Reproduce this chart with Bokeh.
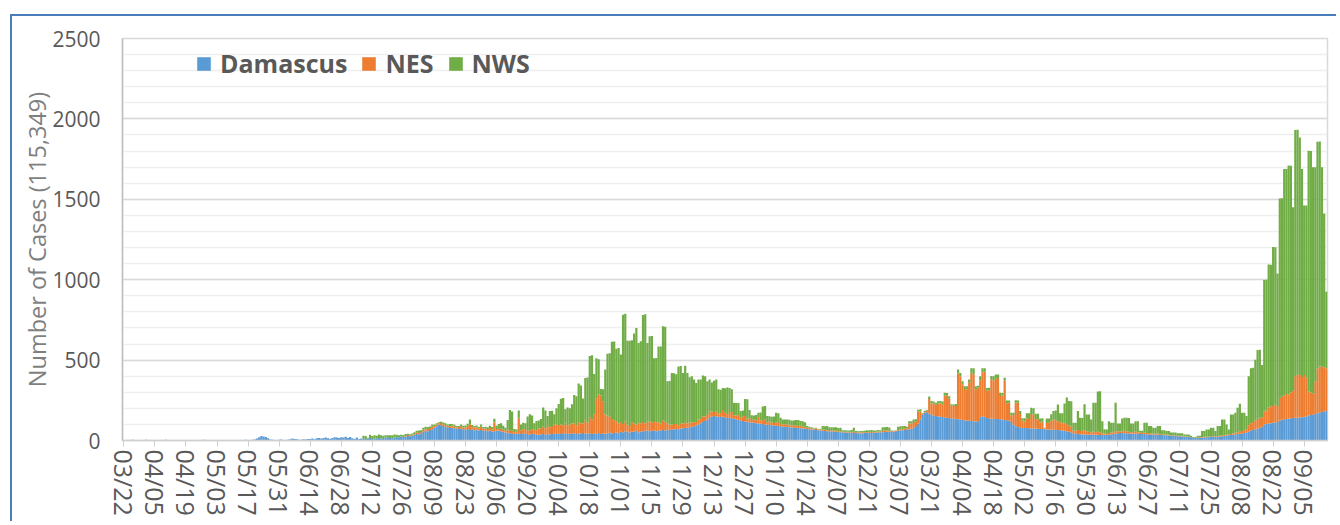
from bokeh.plotting import figure
from bokeh.models import (Range1d, FixedTicker, SingleIntervalTicker, Legend, LegendItem,
                          ColumnDataSource)
from bokeh.embed import file_html
from bokeh.resources import INLINE

tick_labels = ["03/22", "04/05", "04/19", "05/03", "05/17", "05/31", "06/14", "06/28",
               "07/12", "07/26", "08/09", "08/23", "09/06", "09/20", "10/04", "10/18",
               "11/01", "11/15", "11/29", "12/13", "12/27", "01/10", "01/24", "02/07",
               "02/21", "03/07", "03/21", "04/04", "04/18", "05/02", "05/16", "05/30",
               "06/13", "06/27", "07/11", "07/25", "08/08", "08/22", "09/05"]
tick_step_days = 14

series_names = ["Damascus", "NES", "NWS"]
series_colors = ["#5B9BD5", "#ED7D31", "#70AD47"]

# daily values, starting 2020-03-22
damascus = [
    3, 1, 2, 0, 4, 2, 1, 3, 2, 1, 4, 1, 0, 3,
    3, 0, 2, 1, 2, 5, 1, 0, 2, 1, 3, 2, 0, 1,
    2, 1, 0, 3, 1, 0, 2, 1, 4, 0, 1, 2, 1, 0,
    0, 2, 1, 1, 0, 3, 1, 2, 0, 1, 2, 3, 1, 4,
    3, 2, 5, 6, 12, 20, 28, 25, 22, 14, 6, 4, 3, 2,
    4, 6, 3, 2, 5, 8, 12, 10, 7, 4, 5, 8, 6, 9,
    10, 12, 8, 14, 16, 12, 15, 18, 14, 11, 16, 20, 18, 15,
    20, 18, 24, 16, 22, 14, 10, 18, 8, 12, 14, 10, 12, 15,
    10, 12, 14, 16, 12, 15, 18, 20, 16, 14, 18, 22, 20, 25,
    22, 25, 28, 26, 30, 35, 40, 38, 45, 55, 60, 58, 65, 70,
    80, 88, 100, 95, 90, 85, 82, 78, 80, 76, 74, 72, 75, 70,
    68, 72, 66, 70, 64, 68, 62, 65, 60, 63, 58, 60, 56, 58,
    60, 62, 58, 55, 50, 48, 45, 42, 40, 44, 42, 40, 45, 42,
    40, 38, 40, 42, 36, 35, 38, 40, 36, 42, 38, 40, 44, 40,
    42, 40, 45, 44, 40, 42, 45, 43, 40, 44, 42, 46, 44, 42,
    45, 40, 44, 42, 46, 40, 44, 42, 45, 48, 44, 46, 50, 45,
    55, 52, 58, 55, 50, 54, 56, 60, 52, 58, 55, 60, 62, 58,
    60, 62, 58, 64, 60, 66, 62, 68, 65, 70, 68, 72, 70, 74,
    76, 78, 80, 82, 85, 88, 95, 100, 108, 115, 122, 130, 145, 150,
    152, 150, 148, 146, 150, 145, 140, 142, 138, 135, 130, 128, 125, 122,
    118, 116, 114, 112, 110, 108, 106, 104, 102, 100, 98, 96, 95, 94,
    92, 90, 88, 87, 86, 84, 83, 82, 80, 79, 78, 76, 75, 74,
    72, 70, 69, 68, 66, 64, 62, 60, 59, 58, 57, 56, 55, 54,
    53, 52, 51, 50, 49, 48, 48, 47, 46, 45, 44, 45, 46, 47,
    48, 47, 48, 49, 50, 51, 52, 53, 54, 55, 55, 56, 57, 60,
    62, 64, 66, 68, 70, 75, 80, 90, 105, 130, 160, 172, 175, 168,
    160, 155, 152, 150, 148, 146, 144, 142, 140, 138, 136, 135, 132, 130,
    128, 126, 125, 124, 122, 120, 118, 120, 145, 150, 148, 140, 138, 136,
    135, 134, 133, 132, 130, 128, 126, 124, 115, 100, 88, 84, 80, 78,
    78, 77, 76, 75, 75, 74, 73, 72, 71, 70, 69, 68, 68, 67,
    66, 65, 63, 62, 60, 58, 55, 52, 45, 42, 40, 39, 38, 38,
    37, 37, 36, 36, 35, 35, 34, 34, 35, 35, 36, 38, 40, 42,
    45, 46, 46, 45, 45, 44, 44, 43, 42, 42, 41, 40, 40, 39,
    38, 37, 37, 36, 35, 35, 34, 33, 32, 31, 30, 29, 28, 27,
    26, 25, 24, 23, 22, 20, 16, 15, 16, 17, 18, 19, 20, 20,
    21, 22, 23, 24, 25, 27, 28, 30, 32, 34, 36, 38, 40, 42,
    44, 46, 50, 55, 60, 65, 70, 75, 80, 85, 100, 102, 105, 108,
    110, 112, 115, 125, 130, 132, 134, 136, 138, 140, 141, 142, 143, 145,
    148, 150, 155, 158, 160, 165, 170, 175, 178, 181, 185,
]

nes = [
    0, 0, 0, 0, 0, 0, 0, 0, 0, 0, 0, 0, 0, 0,
    0, 0, 0, 0, 0, 0, 0, 0, 0, 0, 0, 0, 0, 0,
    0, 0, 0, 0, 0, 0, 0, 0, 0, 0, 0, 0, 0, 0,
    0, 0, 0, 0, 0, 0, 0, 0, 0, 0, 0, 0, 0, 0,
    0, 0, 0, 0, 0, 0, 0, 0, 0, 0, 0, 0, 0, 0,
    0, 0, 0, 0, 0, 0, 0, 0, 0, 0, 0, 0, 0, 0,
    0, 0, 0, 0, 0, 0, 0, 0, 0, 0, 0, 0, 0, 0,
    0, 0, 0, 0, 0, 0, 0, 0, 0, 0, 0, 0, 0, 0,
    0, 0, 0, 0, 0, 0, 0, 0, 0, 0, 0, 0, 0, 0,
    2, 3, 6, 3, 5, 6, 8, 10, 8, 12, 10, 14, 12, 15,
    10, 12, 8, 14, 10, 12, 9, 11, 13, 10, 8, 12, 14, 10,
    15, 20, 35, 12, 18, 14, 12, 20, 16, 10, 14, 18, 12, 55,
    12, 10, 15, 12, 10, 20, 15, 18, 12, 10, 100, 20, 25, 30,
    20, 25, 30, 25, 30, 40, 35, 45, 40, 50, 45, 50, 55, 60,
    55, 60, 50, 60, 55, 58, 60, 65, 55, 70, 65, 60, 80, 70,
    100, 90, 120, 220, 240, 240, 200, 120, 110, 100, 90, 80, 70, 60,
    60, 50, 60, 45, 40, 60, 50, 40, 55, 50, 60, 45, 55, 60,
    50, 60, 55, 50, 45, 60, 55, 40, 35, 30, 35, 30, 25, 30,
    30, 35, 25, 30, 28, 25, 20, 30, 25, 35, 28, 30, 35, 30,
    25, 30, 20, 25, 40, 30, 25, 35, 40, 20, 25, 30, 20, 25,
    35, 20, 25, 15, 20, 18, 40, 20, 25, 30, 15, 20, 18, 15,
    20, 25, 15, 12, 15, 14, 16, 12, 15, 14, 12, 15, 10, 12,
    8, 10, 5, 6, 8, 5, 6, 10, 8, 6, 8, 5, 7, 6,
    5, 6, 4, 5, 6, 4, 5, 8, 5, 4, 5, 6, 5, 4,
    5, 6, 4, 5, 6, 5, 8, 10, 8, 6, 5, 3, 4, 6,
    8, 6, 10, 8, 35, 30, 35, 30, 75, 50, 5, 5, 10, 90,
    70, 75, 70, 80, 82, 80, 135, 140, 120, 80, 78, 80, 285, 270,
    222, 195, 192, 235, 300, 290, 200, 210, 230, 275, 280, 170, 175, 245,
    240, 250, 255, 145, 150, 245, 105, 110, 42, 58, 147, 150, 85, 45,
    40, 60, 58, 90, 85, 60, 58, 40, 45, 5, 40, 42, 55, 65,
    60, 55, 50, 45, 50, 45, 40, 35, 15, 20, 25, 20, 22, 25,
    20, 18, 15, 20, 18, 20, 18, 10, 8, 6, 10, 12, 10, 15,
    12, 10, 12, 15, 12, 10, 8, 10, 12, 10, 8, 6, 10, 8,
    8, 6, 5, 6, 8, 6, 5, 4, 5, 4, 3, 4, 3, 3,
    3, 4, 3, 2, 3, 2, 1, 2, 2, 3, 3, 4, 3, 4,
    4, 5, 3, 4, 5, 6, 5, 6, 4, 6, 8, 10, 12, 15,
    15, 18, 20, 40, 45, 50, 55, 60, 62, 60, 80, 85, 100, 105,
    105, 110, 100, 140, 145, 150, 155, 150, 160, 170, 260, 270, 265, 250,
    260, 240, 150, 140, 130, 200, 280, 285, 280, 275, 265,
]

nws = [
    0, 0, 0, 0, 0, 0, 0, 0, 0, 0, 0, 0, 0, 0,
    0, 0, 0, 0, 0, 0, 0, 0, 0, 0, 0, 0, 0, 0,
    0, 0, 0, 0, 0, 0, 0, 0, 0, 0, 0, 0, 0, 0,
    0, 0, 0, 0, 0, 0, 0, 0, 0, 0, 0, 0, 0, 0,
    0, 0, 0, 0, 0, 0, 0, 0, 0, 0, 0, 0, 0, 0,
    0, 0, 0, 0, 0, 0, 0, 0, 0, 0, 0, 0, 0, 0,
    0, 0, 0, 0, 0, 0, 0, 0, 0, 0, 0, 0, 0, 0,
    0, 0, 0, 0, 0, 0, 0, 0, 0, 0, 15, 18, 5, 20,
    18, 20, 16, 22, 20, 15, 14, 12, 16, 18, 20, 14, 12, 10,
    10, 12, 8, 10, 9, 10, 12, 14, 10, 12, 15, 12, 10, 14,
    10, 8, 5, 8, 12, 10, 8, 14, 10, 12, 8, 6, 10, 12,
    10, 12, 30, 15, 8, 12, 10, 14, 8, 12, 10, 14, 16, 22,
    20, 30, 35, 25, 20, 60, 130, 120, 20, 15, 45, 40, 40, 35,
    90, 100, 85, 40, 55, 50, 60, 120, 110, 60, 100, 95, 65, 100,
    130, 160, 170, 90, 110, 100, 120, 175, 180, 240, 235, 155, 265, 280,
    380, 400, 250, 250, 220, 40, 75, 280, 385, 395, 480, 490, 450, 470,
    420, 680, 670, 520, 530, 510, 560, 600, 500, 510, 665, 680, 490, 530,
    540, 390, 400, 470, 480, 585, 590, 260, 270, 320, 315, 310, 365, 360,
    314, 352, 315, 281, 286, 267, 243, 249, 246, 255, 250, 209, 200, 180,
    195, 200, 150, 145, 137, 150, 165, 150, 140, 80, 78, 75, 38, 40,
    105, 120, 50, 30, 25, 33, 26, 50, 85, 85, 40, 35, 35, 40,
    60, 55, 38, 32, 30, 33, 30, 30, 30, 34, 37, 31, 35, 28,
    10, 5, 8, 4, 6, 3, 5, 20, 22, 26, 18, 22, 20, 22,
    20, 22, 8, 8, 7, 10, 12, 25, 8, 9, 10, 8, 10, 12,
    10, 12, 10, 8, 9, 8, 22, 20, 22, 20, 4, 2, 3, 20,
    18, 20, 14, 10, 15, 15, 15, 12, 12, 14, 5, 8, 5, 15,
    15, 12, 12, 14, 15, 16, 18, 14, 15, 8, 10, 12, 25, 20,
    18, 16, 20, 20, 28, 40, 20, 10, 25, 25, 22, 17, 15, 20,
    25, 26, 22, 20, 16, 17, 18, 15, 15, 14, 15, 15, 18, 15,
    20, 33, 36, 38, 40, 32, 35, 25, 22, 4, 28, 27, 40, 51,
    60, 104, 57, 63, 120, 165, 150, 157, 50, 48, 118, 82, 80, 162,
    105, 107, 80, 178, 182, 250, 255, 76, 27, 28, 74, 60, 60, 177,
    49, 50, 79, 81, 84, 86, 54, 53, 66, 68, 12, 15, 60, 63,
    44, 47, 38, 37, 47, 49, 25, 27, 22, 24, 16, 16, 18, 15,
    16, 16, 11, 13, 12, 8, 5, 5, 12, 10, 38, 36, 46, 45,
    55, 53, 33, 62, 60, 98, 97, 64, 33, 122, 118, 124, 151, 171,
    113, 108, 82, 304, 345, 337, 377, 428, 423, 325, 818, 813, 889, 880,
    989, 980, 823, 1240, 1232, 1406, 1400, 1424, 1410, 1140, 1530, 1520, 1476, 1293,
    1054, 1072, 1497, 1502, 1410, 1335, 1408, 1400, 1242, 955, 475,
]

y_max = 2500
y_label = "Number of Cases (115,349)"

assert len(damascus) == len(nes) == len(nws), (len(damascus), len(nes), len(nws))
n = len(damascus)
days = list(range(n))
src = ColumnDataSource(dict(day=days, Damascus=damascus, NES=nes, NWS=nws))

W, H = 1326, 507
p = figure(width=W, height=H, output_backend="svg", toolbar_location=None,
           x_range=Range1d(-0.6, n - 0.5), y_range=Range1d(0, y_max),
           min_border_left=110, min_border_right=11, min_border_top=22,
           min_border_bottom=83, background_fill_color="white",
           border_fill_color="white")
p.styles = {"border-top": "2px solid #4a7ebb", "border-left": "2px solid #4a7ebb",
            "position": "relative", "left": "10px", "top": "14px"}

rs = p.vbar_stack(series_names, x="day", width=1.0, source=src,
                  fill_color=series_colors, line_color=None)

# axes
tick_pos = [i * tick_step_days for i in range(len(tick_labels))]
p.xaxis.ticker = FixedTicker(ticks=tick_pos)
p.xaxis.major_label_overrides = {t: lab for t, lab in zip(tick_pos, tick_labels)}
p.xaxis.major_label_orientation = "vertical"
p.xaxis.major_label_text_font = "Open Sans"
p.xaxis.major_label_text_font_size = "25px"
p.xaxis.major_label_text_color = "#595959"
p.xaxis.major_label_standoff = 3
p.xaxis.axis_line_color = "#d0d0d0"
p.xaxis.axis_line_width = 1.5
p.xaxis.major_tick_line_color = "#d0d0d0"
p.xaxis.major_tick_out = 6
p.xaxis.major_tick_in = 0
p.xaxis.minor_tick_line_color = None

p.yaxis.ticker = SingleIntervalTicker(interval=500, num_minor_ticks=5)
p.yaxis.major_tick_line_color = None
p.yaxis.minor_tick_line_color = None
p.yaxis.axis_line_color = "#bfbfbf"
p.yaxis.axis_line_width = 1.5
p.yaxis.major_label_text_font = "Open Sans"
p.yaxis.major_label_text_font_size = "21px"
p.yaxis.major_label_text_color = "#595959"
p.yaxis.major_label_standoff = 16
p.yaxis.axis_label = y_label
p.yaxis.axis_label_text_font = "Open Sans"
p.yaxis.axis_label_text_font_size = "23.5px"
p.yaxis.axis_label_text_font_style = "normal"
p.yaxis.axis_label_text_color = "#7f7f7f"
p.yaxis.axis_label_standoff = -4

p.xgrid.grid_line_color = None
p.ygrid.grid_line_color = "#d9d9d9"
p.ygrid.grid_line_width = 1.5
p.ygrid.minor_grid_line_color = "#efefef"
p.ygrid.minor_grid_line_width = 1.5
p.outline_line_color = "#d9d9d9"
p.outline_line_width = 1.5

legend = Legend(items=[LegendItem(label=nm, renderers=[r]) for nm, r in zip(series_names, rs)],
                orientation="horizontal", location=(73, 360),
                label_text_font="Open Sans", label_text_font_style="bold",
                label_text_font_size="25px", label_text_color="#595959",
                glyph_width=17, glyph_height=17, label_standoff=8, spacing=13,
                padding=0, margin=0, border_line_color=None,
                background_fill_alpha=0)
p.add_layout(legend)

open("out.html", "w").write(file_html(p, INLINE))
